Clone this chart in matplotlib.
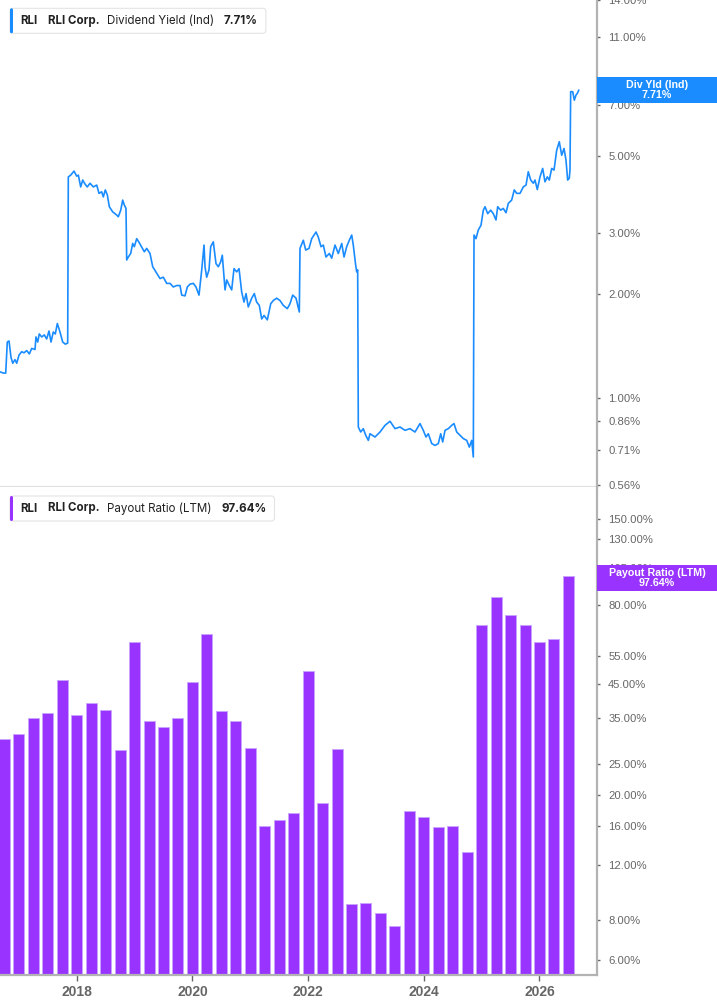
import numpy as np
import matplotlib.pyplot as plt
import matplotlib.transforms as mtransforms
from matplotlib.patches import Rectangle, FancyBboxPatch
from matplotlib.ticker import NullLocator

# dividend yield (Ind), decimal year -> %
yld_dates = [
    2016.674, 2016.731, 2016.773, 2016.800, 2016.830, 2016.864, 2016.894, 2016.933, 2016.963, 2017.003,
    2017.049, 2017.089, 2017.136, 2017.181, 2017.222, 2017.279, 2017.296, 2017.326, 2017.353, 2017.395,
    2017.440, 2017.481, 2017.521, 2017.556, 2017.595, 2017.630, 2017.665, 2017.711, 2017.758, 2017.803,
    2017.844, 2017.855, 2017.896, 2017.953, 2018.000, 2018.028, 2018.069, 2018.104, 2018.143, 2018.183,
    2018.230, 2018.287, 2018.346, 2018.385, 2018.432, 2018.460, 2018.494, 2018.529, 2018.564, 2018.622,
    2018.691, 2018.719, 2018.761, 2018.795, 2018.823, 2018.852, 2018.864, 2018.892, 2018.933, 2018.968,
    2018.996, 2019.037, 2019.072, 2019.124, 2019.169, 2019.210, 2019.267, 2019.314, 2019.383, 2019.440,
    2019.497, 2019.556, 2019.613, 2019.670, 2019.729, 2019.786, 2019.815, 2019.872, 2019.912, 2019.959,
    2020.016, 2020.062, 2020.114, 2020.161, 2020.201, 2020.218, 2020.247, 2020.287, 2020.316, 2020.361,
    2020.408, 2020.448, 2020.489, 2020.517, 2020.564, 2020.593, 2020.638, 2020.679, 2020.719, 2020.766,
    2020.806, 2020.852, 2020.892, 2020.927, 2020.966, 2021.025, 2021.070, 2021.111, 2021.156, 2021.198,
    2021.238, 2021.295, 2021.354, 2021.398, 2021.457, 2021.514, 2021.571, 2021.640, 2021.687, 2021.734,
    2021.791, 2021.848, 2021.860, 2021.917, 2021.959, 2022.016, 2022.062, 2022.137, 2022.176, 2022.223,
    2022.263, 2022.309, 2022.367, 2022.408, 2022.465, 2022.522, 2022.581, 2022.621, 2022.667, 2022.712,
    2022.754, 2022.781, 2022.823, 2022.840, 2022.857, 2022.868, 2022.909, 2022.954, 2022.996, 2023.041,
    2023.070, 2023.156, 2023.243, 2023.329, 2023.416, 2023.502, 2023.589, 2023.675, 2023.761, 2023.848,
    2023.934, 2023.991, 2024.038, 2024.078, 2024.137, 2024.194, 2024.251, 2024.292, 2024.327, 2024.367,
    2024.424, 2024.482, 2024.522, 2024.569, 2024.626, 2024.683, 2024.742, 2024.787, 2024.828, 2024.856,
    2024.868, 2024.902, 2024.942, 2024.989, 2025.029, 2025.058, 2025.105, 2025.156, 2025.201, 2025.248,
    2025.277, 2025.329, 2025.374, 2025.421, 2025.461, 2025.519, 2025.564, 2025.606, 2025.663, 2025.720,
    2025.767, 2025.806, 2025.848, 2025.893, 2025.922, 2025.962, 2026.009, 2026.055, 2026.095, 2026.135,
    2026.169, 2026.211, 2026.251, 2026.297, 2026.342, 2026.384, 2026.424, 2026.458, 2026.487, 2026.515,
    2026.527, 2026.539, 2026.574, 2026.602, 2026.631, 2026.653, 2026.678,
]
yld_values = [
    1.19, 1.18, 1.18, 1.45, 1.46, 1.31, 1.26, 1.29, 1.26, 1.33,
    1.36, 1.35, 1.37, 1.34, 1.39, 1.38, 1.50, 1.45, 1.53, 1.50,
    1.52, 1.48, 1.56, 1.45, 1.55, 1.53, 1.64, 1.55, 1.45, 1.43,
    1.44, 4.34, 4.39, 4.51, 4.36, 4.39, 4.06, 4.25, 4.14, 4.06,
    4.16, 4.06, 4.11, 3.89, 3.93, 3.80, 3.98, 3.85, 3.56, 3.44,
    3.37, 3.33, 3.48, 3.72, 3.60, 3.52, 2.50, 2.55, 2.61, 2.79,
    2.73, 2.88, 2.82, 2.72, 2.64, 2.70, 2.61, 2.39, 2.29, 2.21,
    2.23, 2.14, 2.14, 2.09, 2.11, 2.11, 1.98, 1.97, 2.09, 2.13,
    2.14, 2.09, 1.98, 2.34, 2.76, 2.39, 2.23, 2.34, 2.73, 2.82,
    2.44, 2.39, 2.47, 2.58, 2.05, 2.19, 2.11, 2.05, 2.36, 2.31,
    2.36, 2.02, 1.89, 2.00, 1.83, 1.94, 2.00, 1.89, 1.85, 1.69,
    1.73, 1.68, 1.87, 1.91, 1.94, 1.91, 1.85, 1.81, 1.87, 1.98,
    1.94, 1.77, 2.70, 2.85, 2.67, 2.70, 2.88, 3.01, 2.91, 2.73,
    2.76, 2.55, 2.61, 2.53, 2.76, 2.61, 2.79, 2.55, 2.73, 2.85,
    2.95, 2.76, 2.41, 2.31, 2.34, 0.825, 0.798, 0.816, 0.781, 0.755,
    0.789, 0.772, 0.798, 0.834, 0.857, 0.816, 0.825, 0.807, 0.816, 0.798,
    0.844, 0.807, 0.772, 0.789, 0.739, 0.730, 0.739, 0.789, 0.747, 0.807,
    0.816, 0.834, 0.844, 0.798, 0.781, 0.764, 0.755, 0.722, 0.755, 0.676,
    2.95, 2.88, 3.05, 3.15, 3.48, 3.56, 3.40, 3.48, 3.40, 3.26,
    3.56, 3.48, 3.52, 3.42, 3.64, 3.72, 3.98, 3.89, 3.89, 4.06,
    4.11, 4.49, 4.25, 4.16, 4.25, 3.99, 4.34, 4.59, 4.20, 4.34,
    4.25, 4.59, 4.54, 5.18, 5.48, 5.01, 5.24, 4.85, 4.25, 4.30,
    4.54, 7.64, 7.64, 7.22, 7.47, 7.55, 7.71,
]

# payout ratio (LTM), quarterly
payout_quarters = [
    '2016Q3', '2016Q4', '2017Q1', '2017Q2', '2017Q3', '2017Q4', '2018Q1', '2018Q2', '2018Q3', '2018Q4',
    '2019Q1', '2019Q2', '2019Q3', '2019Q4', '2020Q1', '2020Q2', '2020Q3', '2020Q4', '2021Q1', '2021Q2',
    '2021Q3', '2021Q4', '2022Q1', '2022Q2', '2022Q3', '2022Q4', '2023Q1', '2023Q2', '2023Q3', '2023Q4',
    '2024Q1', '2024Q2', '2024Q3', '2024Q4', '2025Q1', '2025Q2', '2025Q3', '2025Q4', '2026Q1', '2026Q2',
]
payout_values = [
    29.2, 30.2, 34.0, 35.5, 45.2, 34.8, 38.1, 36.1, 26.8, 60.2,
    33.3, 31.8, 34.2, 44.6, 63.7, 35.9, 33.3, 27.2, 14.9, 15.6,
    16.5, 48.5, 17.8, 26.9, 8.0, 8.07, 7.47, 6.7, 16.8, 16.0,
    14.8, 14.9, 12.2, 68.2, 84.2, 73.7, 68.0, 59.9, 61.6, 97.64,
]

yld_ticks = [14, 11, 8, 7, 5, 3, 2, 1, 0.86, 0.71, 0.56]
payout_ticks = [150, 130, 105, 80, 55, 45, 35, 25, 20, 16, 12, 8, 6]
year_ticks = [2018, 2020, 2022, 2024, 2026]

BLUE = '#1a8cff'
PURPLE = '#9933ff'
GRAY = '#666666'
TICK_FONT = ['Liberation Sans', 'DejaVu Sans']
LEG_FONT = ['Inter', 'DejaVu Sans']

payout_x = [int(q[:4]) + int(q[5]) / 4 for q in payout_quarters]

W, H = 717, 1005
fig = plt.figure(figsize=(W / 100, H / 100), dpi=100)
# pixel coords, origin top-left
px = mtransforms.Affine2D().scale(1 / W, -1 / H).translate(0, 1) + fig.transFigure

ax_top = fig.add_axes([0, 1 - 487 / H, 597 / W, 487 / H])
ax_bot = fig.add_axes([0, 1 - 975 / H, 597 / W, 488 / H], sharex=ax_top)

ax_top.plot(yld_dates, yld_values, color=BLUE, lw=1.2)
ax_bot.bar(payout_x, payout_values, width=0.19, bottom=1, color=PURPLE,
           edgecolor='#c9a3ff', linewidth=0.6)

ax_top.set_yscale('log')
ax_bot.set_yscale('log')
ax_top.set_ylim(0.554, 14.04)
ax_bot.set_ylim(5.37, 189.6)
ax_top.set_xlim(2016.674, 2026.994)

for ax, ticks in [(ax_top, yld_ticks), (ax_bot, payout_ticks)]:
    ax.yaxis.tick_right()
    ax.set_yticks(ticks)
    ax.set_yticklabels([f'{t:.2f}%' for t in ticks], family=TICK_FONT)
    ax.yaxis.set_minor_locator(NullLocator())
    ax.tick_params(axis='y', length=2, width=1, color=GRAY, pad=6,
                   labelsize=8.1, labelcolor=GRAY)
    for s in ['left', 'top']:
        ax.spines[s].set_visible(False)
    ax.spines['right'].set_color('#b3b3b3')
    ax.spines['right'].set_linewidth(1.6)

ax_top.spines['bottom'].set_color('#e0e0e0')
ax_top.spines['bottom'].set_linewidth(1.5)
ax_top.tick_params(axis='x', bottom=False, labelbottom=False)

ax_bot.spines['bottom'].set_color('#b3b3b3')
ax_bot.spines['bottom'].set_linewidth(1.6)
ax_bot.set_xticks(year_ticks)
ax_bot.set_xticklabels([str(y) for y in year_ticks], family=TICK_FONT, fontweight='bold')
ax_bot.xaxis.set_minor_locator(NullLocator())
ax_bot.tick_params(axis='x', length=4, width=1, color=GRAY, pad=3,
                   labelsize=10, labelcolor=GRAY)


def value_tag(ax, value, lo, hi, text, color):
    frac = (np.log10(value) - np.log10(lo)) / (np.log10(hi) - np.log10(lo))
    h = 13 / 487
    ax.add_patch(Rectangle((1.0, frac - h), W / 597 - 1, 2 * h, transform=ax.transAxes,
                           facecolor=color, edgecolor='none', clip_on=False, zorder=5))
    ax.text((1 + W / 597) / 2, frac, text, transform=ax.transAxes, ha='center', va='center',
            color='white', fontsize=7.7, fontweight='bold', linespacing=1.0, zorder=6,
            family=TICK_FONT)


value_tag(ax_top, yld_values[-1], 0.554, 14.04, f'Div Yld (Ind)\n{yld_values[-1]:.2f}%', BLUE)
value_tag(ax_bot, payout_values[-1], 5.37, 189.6, f'Payout Ratio (LTM)\n{payout_values[-1]:.2f}%', PURPLE)

renderer = fig.canvas.get_renderer()


def legend_box(y0, label, value, color):
    yc = y0 + 12.5
    kw = dict(transform=px, va='center', fontsize=8.3, color='#222222', family=LEG_FONT)
    x = 20.5
    for txt, weight, gap in [('RLI', 'bold', 10), ('RLI Corp.', 'bold', 8),
                             (label, 'normal', 9.5), (value, 'bold', 0)]:
        t = fig.text(x, yc, txt, fontweight=weight, **kw)
        x += t.get_window_extent(renderer).width + gap
    width = x + 8 - 10
    fig.add_artist(FancyBboxPatch((10, y0), width, 25, boxstyle='round,pad=0,rounding_size=3',
                                  transform=px, facecolor='white', edgecolor='#e4e4e4', lw=0.8,
                                  zorder=0.5))
    fig.add_artist(FancyBboxPatch((10, y0), 3, 25, boxstyle='round,pad=0,rounding_size=1.5',
                                  transform=px, facecolor=color, edgecolor='none', zorder=0.6))


legend_box(8.3, 'Dividend Yield (Ind)', f'{yld_values[-1]:.2f}%', BLUE)
legend_box(496, 'Payout Ratio (LTM)', f'{payout_values[-1]:.2f}%', PURPLE)

fig.savefig('out.png', dpi=100)
